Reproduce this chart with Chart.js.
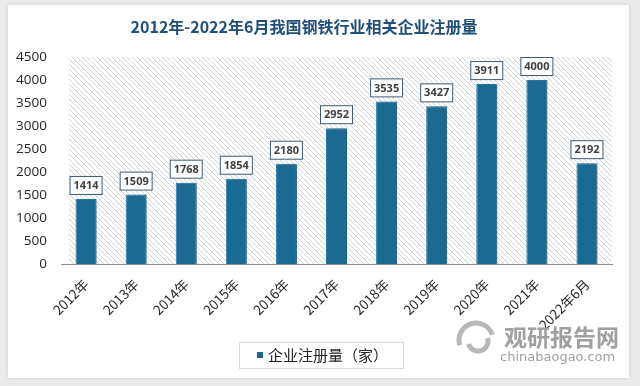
<!DOCTYPE html>
<html>
<head>
<meta charset="utf-8">
<script src="https://cdn.jsdelivr.net/npm/chart.js@4"></script>
<style>
  html, body { margin: 0; padding: 0; background: #ebebeb; }
  #wrap { width: 640px; height: 386px; position: relative; }
</style>
</head>
<body>
<div id="wrap"><canvas id="barChart" width="640" height="386"></canvas></div>
<script>
// data
const years = ['2012年', '2013年', '2014年', '2015年', '2016年', '2017年', '2018年', '2019年', '2020年', '2021年', '2022年6月'];
const counts = [1414, 1509, 1768, 1854, 2180, 2952, 3535, 3427, 3911, 4000, 2192];
const yTicks = [0, 500, 1000, 1500, 2000, 2500, 3000, 3500, 4000, 4500];

const titleText = '2012年-2022年6月我国钢铁行业相关企业注册量';
const legendText = '企业注册量（家）';
const barColor = '#1b6a94';
const cjk = '"Noto Sans CJK SC", "Noto Sans", sans-serif';

// hatched plot background
function hatch() {
  const c = document.createElement('canvas');
  c.width = 5; c.height = 5;
  const g = c.getContext('2d');
  g.fillStyle = '#ffffff';
  g.fillRect(0, 0, 5, 5);
  g.fillStyle = '#d2d2d2';
  for (let i = 0; i < 5; i++) g.fillRect(i, i, 1, 1);
  return c;
}

const decor = {
  id: 'decor',
  beforeDraw(chart) {
    const ctx = chart.ctx;
    const a = chart.chartArea;
    ctx.save();
    ctx.fillStyle = '#ebebeb';
    ctx.fillRect(0, 0, chart.width, chart.height);
    ctx.shadowColor = 'rgba(0,0,0,0.12)';
    ctx.shadowBlur = 4;
    ctx.fillStyle = '#ffffff';
    ctx.fillRect(8, 5, 621, 373);
    ctx.shadowColor = 'transparent';
    ctx.fillStyle = ctx.createPattern(hatch(), 'repeat');
    ctx.fillRect(a.left + 8, a.top, a.right - a.left - 8, a.bottom - a.top);

    // title
    ctx.fillStyle = '#1f4e79';
    ctx.font = 'bold 16px ' + cjk;
    ctx.textAlign = 'center';
    ctx.textBaseline = 'middle';
    ctx.fillText(titleText, 304, 27, 370);
    ctx.restore();
  },
  beforeDatasetDraw(chart) {
    const ctx = chart.ctx;
    ctx.save();
    ctx.shadowColor = 'rgba(0,0,0,0.28)';
    ctx.shadowBlur = 4;
    ctx.shadowOffsetX = 4;
    ctx.shadowOffsetY = 0;
  },
  afterDatasetDraw(chart) {
    chart.ctx.restore();
  },
  afterDraw(chart) {
    const ctx = chart.ctx;
    const meta = chart.getDatasetMeta(0);
    ctx.save();
    // value boxes
    ctx.font = 'bold 11px "Open Sans", "Noto Sans", sans-serif';
    ctx.textAlign = 'center';
    ctx.textBaseline = 'middle';
    meta.data.forEach((bar, i) => {
      const w = 33, h = 19;
      const x = bar.x - w / 2;
      const y = bar.y - 4 - h;
      ctx.fillStyle = '#ffffff';
      ctx.fillRect(x, y, w, h);
      ctx.strokeStyle = '#3f5a72';
      ctx.lineWidth = 1;
      ctx.strokeRect(x + 0.5, y + 0.5, w - 1, h - 1);
      ctx.fillStyle = '#404040';
      ctx.fillText(String(counts[i]), bar.x, y + h / 2 + 0.5);
    });

    // legend
    ctx.strokeStyle = '#d9d9d9';
    ctx.lineWidth = 1;
    ctx.strokeRect(239.5, 342.5, 164, 26);
    ctx.fillStyle = barColor;
    ctx.fillRect(257, 352, 6, 6);
    ctx.fillStyle = '#222222';
    ctx.font = '15px ' + cjk;
    ctx.textAlign = 'left';
    ctx.textBaseline = 'middle';
    ctx.fillText(legendText, 268, 355);

    // watermark
    ctx.strokeStyle = '#b8b8b8';
    ctx.lineWidth = 5;
    ctx.beginPath();
    ctx.arc(476, 340, 17, Math.PI * 0.9, Math.PI * 1.9);
    ctx.stroke();
    ctx.beginPath();
    ctx.arc(478, 341, 10, Math.PI * 1.9, Math.PI * 0.9);
    ctx.stroke();
    ctx.fillStyle = '#a0a0a0';
    ctx.font = 'bold 23px ' + cjk;
    ctx.textBaseline = 'alphabetic';
    ctx.fillText('观研报告网', 504, 346, 120);
    ctx.font = '13px "DejaVu Sans", sans-serif';
    ctx.fillText('chinabaogao.com', 500, 361, 123);
    ctx.restore();
  }
};

new Chart(document.getElementById('barChart').getContext('2d'), {
  type: 'bar',
  data: {
    labels: years,
    datasets: [{
      label: legendText,
      data: counts,
      backgroundColor: barColor,
      borderColor: '#2d7fab',
      borderWidth: 1,
      barPercentage: 0.42,
      categoryPercentage: 1
    }]
  },
  options: {
    responsive: false,
    animation: false,
    layout: { padding: { top: 57, right: 28, bottom: 0, left: 0 } },
    plugins: {
      legend: { display: false },
      tooltip: { enabled: false }
    },
    scales: {
      x: {
        grid: { display: false },
        border: { color: '#8c8c8c', width: 1 },
        ticks: {
          color: '#262626',
          font: { size: 13.5, family: cjk },
          minRotation: 45,
          maxRotation: 45,
          padding: 4
        },
        afterFit(s) { s.height = 122; }
      },
      y: {
        min: 0,
        max: 4500,
        afterBuildTicks(s) { s.ticks = yTicks.map(v => ({ value: v })); },
        grid: { display: false, drawTicks: false },
        border: { display: false },
        ticks: {
          color: '#262626',
          font: { size: 13.5, family: '"Open Sans", "Noto Sans", sans-serif' },
          padding: 14,
          callback: v => String(v)
        },
        afterFit(s) { s.width = 61; }
      }
    }
  },
  plugins: [decor]
});
</script>
</body>
</html>
